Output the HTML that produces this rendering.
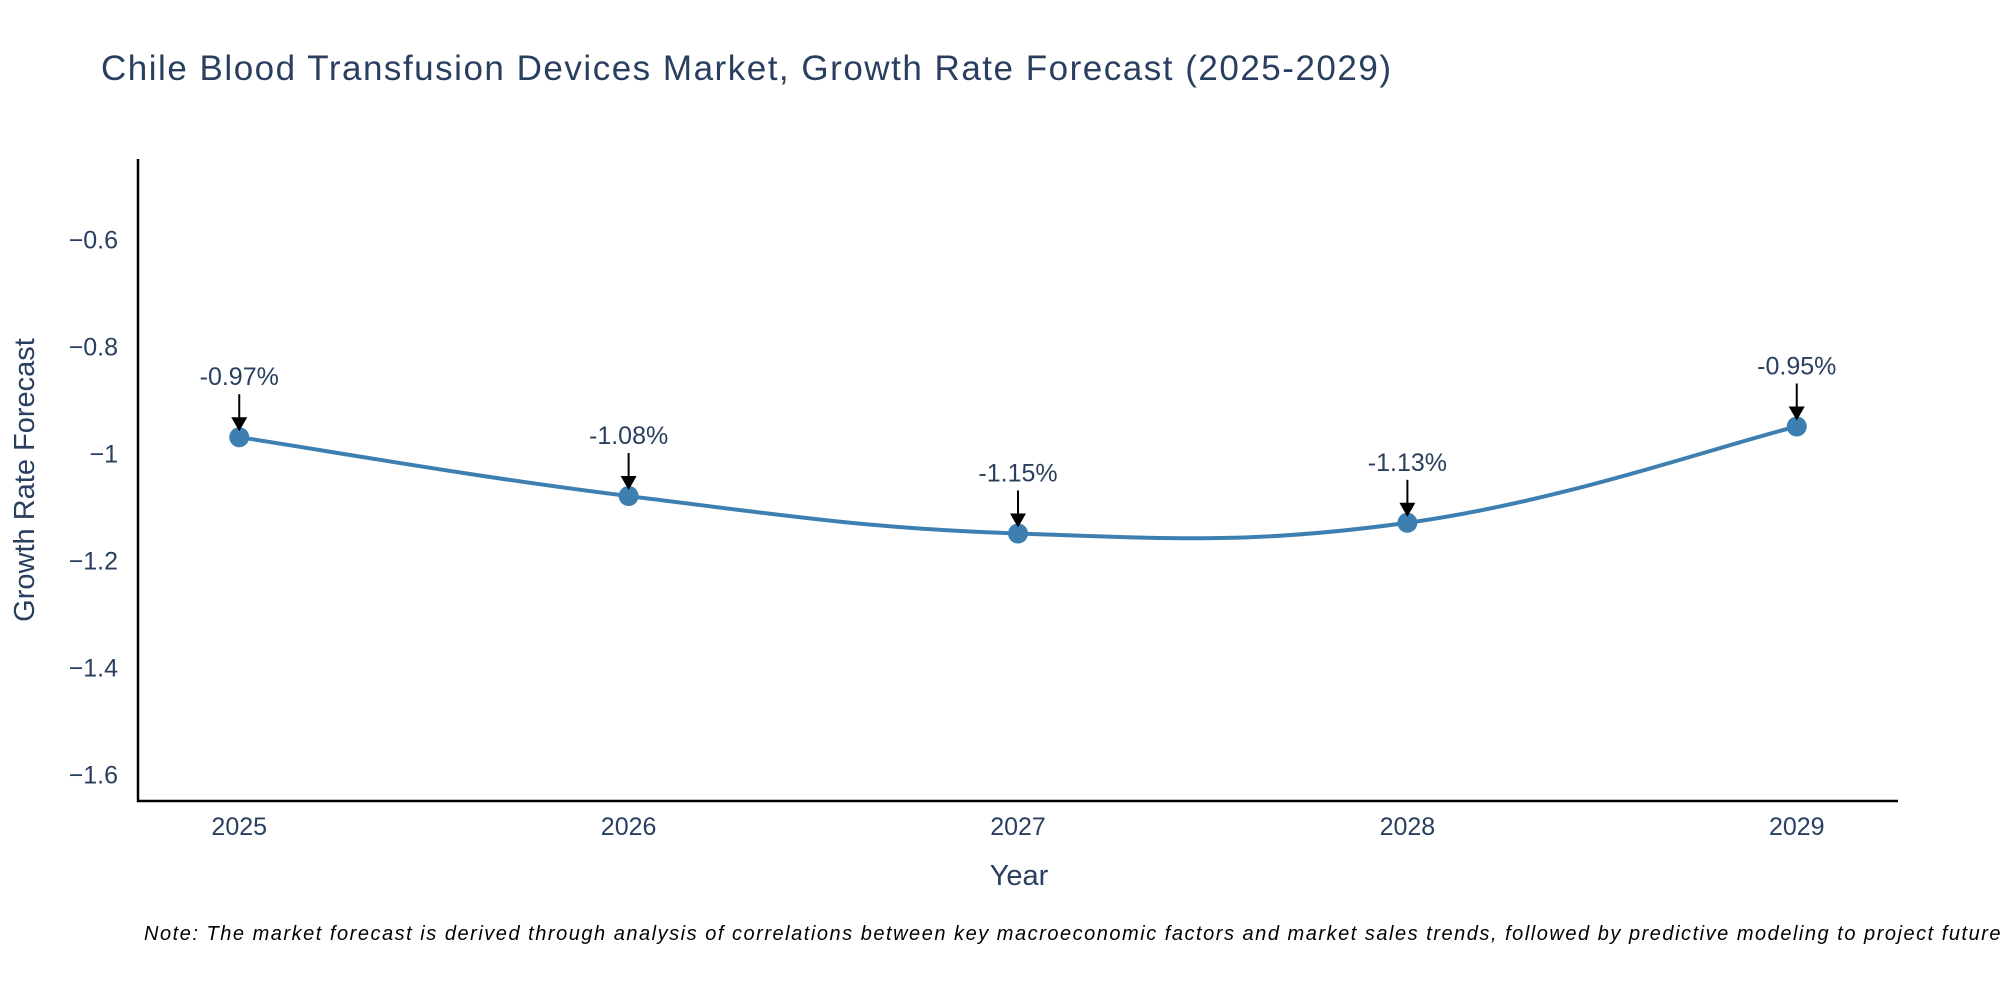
<!DOCTYPE html>
<html><head><meta charset="utf-8"><style>
html,body{margin:0;padding:0;background:#fff;overflow:hidden;}
svg{display:block;font-family:"Liberation Sans",sans-serif;}
</style></head><body>
<svg id="chart" width="2000" height="1000" viewBox="0 0 2000 1000">
<text x="101" y="80" font-size="35" fill="#2a3f5f" textLength="1290">Chile Blood Transfusion Devices Market, Growth Rate Forecast (2025-2029)</text>
<g id="yticks"></g>
<g id="xticks"></g>
<line x1="138" y1="159" x2="138" y2="802" stroke="#000" stroke-width="2.5"/>
<line x1="137" y1="801" x2="1898" y2="801" stroke="#000" stroke-width="2.5"/>
<text x="34" y="480" font-size="29" fill="#2a3f5f" text-anchor="middle" transform="rotate(-90 34 480)">Growth Rate Forecast</text>
<text x="1019" y="885" font-size="29" fill="#2a3f5f" text-anchor="middle">Year</text>
<g id="series"></g>
<g id="annots"></g>
<text x="144" y="940" font-size="20" font-style="italic" fill="#000" textLength="1925">Note: The market forecast is derived through analysis of correlations between key macroeconomic factors and market sales trends, followed by predictive modeling to project future sales.</text>
</svg>
<script>
const years = [2025, 2026, 2027, 2028, 2029];
const growth = [-0.97, -1.08, -1.15, -1.13, -0.95];
const labels = ["-0.97%", "-1.08%", "-1.15%", "-1.13%", "-0.95%"];
const yTicks = [-0.6, -0.8, -1, -1.2, -1.4, -1.6];
const yTickLabels = ["\u22120.6", "\u22120.8", "\u22121", "\u22121.2", "\u22121.4", "\u22121.6"];

const NS = "http://www.w3.org/2000/svg";
const X0 = 138, X1 = 1898, Y0 = 159, Y1 = 801;
const xMin = 2024.74, xMax = 2029.26, yMin = -1.65, yMax = -0.45;
const xs = v => X0 + (v - xMin) / (xMax - xMin) * (X1 - X0);
const ys = v => Y1 - (v - yMin) / (yMax - yMin) * (Y1 - Y0);
function mk(tag, attrs, parent) {
  const e = document.createElementNS(NS, tag);
  for (const k in attrs) e.setAttribute(k, attrs[k]);
  parent.appendChild(e);
  return e;
}
const yg = document.getElementById('yticks');
yTicks.forEach((t, i) => {
  const el = mk('text', {x: 118, y: ys(t) + 9, 'font-size': 25, fill: '#2a3f5f', 'text-anchor': 'end'}, yg);
  
  
  el.textContent = yTickLabels[i];
});
const xg = document.getElementById('xticks');
years.forEach(y => {
  const el = mk('text', {x: xs(y), y: 835, 'font-size': 25, fill: '#2a3f5f', 'text-anchor': 'middle'}, xg);
  
  
  el.textContent = y;
});
const pts = years.map((y, i) => [xs(y), ys(growth[i])]);
let d = `M${pts[0][0]},${pts[0][1]}`;
const s = 0.2;
for (let i = 0; i < pts.length - 1; i++) {
  const p0 = pts[Math.max(0, i - 1)], p1 = pts[i], p2 = pts[i + 1], p3 = pts[Math.min(pts.length - 1, i + 2)];
  const c1 = [p1[0] + (p2[0] - p0[0]) * s, p1[1] + (p2[1] - p0[1]) * s];
  const c2 = [p2[0] - (p3[0] - p1[0]) * s, p2[1] - (p3[1] - p1[1]) * s];
  d += ` C${c1[0]},${c1[1]} ${c2[0]},${c2[1]} ${p2[0]},${p2[1]}`;
}
const sg = document.getElementById('series');
const line = mk('path', {d: d, fill: 'none', stroke: '#3d7fb1', 'stroke-width': 4}, sg);


pts.forEach(p => {
  const c = mk('circle', {cx: p[0], cy: p[1], r: 10, fill: '#3d7fb1'}, sg);
  
  
});
const ag = document.getElementById('annots');
pts.forEach((p, i) => {
  const l = mk('line', {x1: p[0], y1: p[1] - 43, x2: p[0], y2: p[1] - 16, stroke: '#000', 'stroke-width': 2}, ag);
  
  
  const h = mk('path', {d: `M${p[0]-8},${p[1]-20} L${p[0]+8},${p[1]-20} L${p[0]},${p[1]-6} Z`, fill: '#000'}, ag);
  
  
  const t = mk('text', {x: p[0], y: p[1] - 52, 'font-size': 25, fill: '#2a3f5f', 'text-anchor': 'middle'}, ag);
  
  
  t.textContent = labels[i];
});
</script>
</body></html>
